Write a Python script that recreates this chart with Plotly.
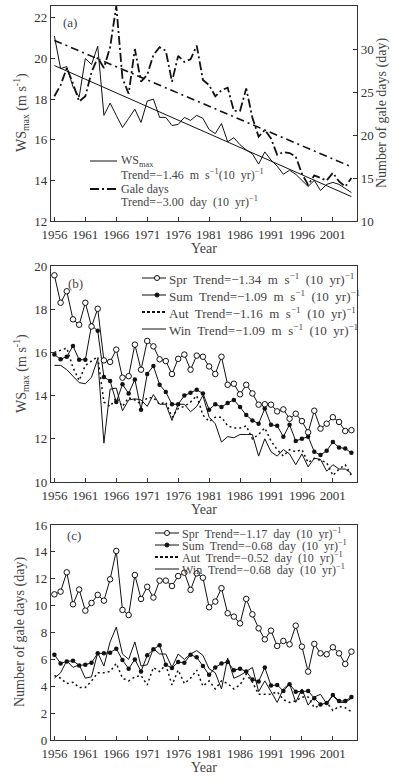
import plotly.graph_objects as go

# ---------------- data ----------------
years = list(range(1956, 2005))

ws_max = [21.1, 19.5, 19.6, 18.6, 18.1, 20.0, 19.7, 20.6, 17.2, 17.8,
          17.2, 16.6, 17.05, 17.5, 16.85, 17.9, 18.0, 17.1, 17.1, 16.7,
          16.75, 17.1, 16.95, 17.2, 17.05, 16.5, 16.3, 16.8, 15.9, 16.1,
          15.75, 15.5, 15.3, 14.8, 15.4, 15.0, 14.7, 14.3, 14.5, 14.3,
          14.0, 13.7, 14.0, 13.5, 13.8, 13.9, 13.8, 13.6, 13.4]

gale_days = [24.5, 25.8, 27.8, 26.0, 23.9, 24.5, 27.3, 29.0, 27.8, 30.2,
             35.0, 26.6, 24.8, 30.0, 26.2, 27.0, 29.3, 30.2, 29.8, 26.2,
             29.2, 28.5, 28.8, 30.4, 26.4, 25.8, 24.5, 25.2, 25.5, 22.8,
             22.8, 25.4, 22.0, 19.8, 20.6, 19.6, 17.7, 18.0, 17.9, 17.5,
             15.5, 14.2, 15.3, 15.0, 14.7, 15.6, 14.6, 14.0, 15.0]

trend_years = [1956, 2004]
ws_trend = [19.65, 13.2]
gale_trend = [31.0, 16.3]

spr_ws = [19.57, 18.3, 18.83, 17.53, 17.28, 18.3, 17.2, 18.02, 15.63, 15.56,
          16.13, 14.83, 14.9, 16.36, 15.2, 16.53, 16.28, 15.68, 15.6, 15.0,
          15.7, 15.9, 15.2, 15.85, 15.8, 15.35, 15.0, 15.8, 14.5, 14.55,
          14.06, 14.5, 14.1, 13.58, 13.6, 13.58, 13.27, 13.36, 12.93, 13.16,
          12.82, 12.3, 13.3, 12.47, 12.7, 13.0, 12.78, 12.36, 12.4]
sum_ws = [15.9, 15.68, 15.8, 16.3, 15.66, 15.66, 17.25, 17.0, 14.86, 14.68,
          13.7, 14.52, 14.1, 14.75, 13.35, 15.0, 15.37, 14.5, 14.17, 13.6,
          13.6, 14.0, 14.13, 14.27, 14.1, 13.35, 13.6, 13.47, 13.66, 13.8,
          13.47, 13.1, 12.85, 12.7, 13.4, 12.65, 12.6, 12.1, 12.65, 11.9,
          12.0, 12.1, 11.4, 11.25, 11.45, 11.85, 11.6, 11.55, 11.35]
aut_ws = [16.0, 16.1, 16.2, 15.3, 14.7, 15.4, 15.6, 15.8, 13.7, 13.5,
          13.9, 13.5, 13.9, 13.8, 13.6, 13.9, 13.9, 13.6, 13.7, 13.0,
          13.4, 13.5, 13.7, 14.0, 13.1, 12.8, 13.0, 13.0, 12.6, 12.5,
          12.5, 12.6, 12.0, 12.2, 12.5, 11.9, 11.5, 11.2, 11.5, 11.4,
          11.5, 10.9, 11.1, 11.0, 10.9, 10.3, 10.6, 10.8, 10.3]
win_ws = [15.4, 15.4, 15.2, 14.9, 14.6, 14.55, 14.85, 15.7, 11.8, 14.3,
          14.35, 13.3, 13.8, 13.85, 13.8, 13.5, 14.05, 13.6, 13.6, 12.85,
          13.6, 13.6, 13.25, 13.5, 14.0, 13.0, 12.7, 11.85, 12.1, 12.05,
          12.2, 12.2, 12.2, 11.2, 12.0, 11.4, 11.2, 11.5, 11.3, 10.8,
          11.3, 10.7, 11.1, 11.05, 10.5, 10.8, 10.6, 10.6, 10.4]

spr_gd = [10.84, 11.04, 12.48, 10.1, 11.2, 9.63, 10.2, 10.8, 10.37, 11.96,
          14.07, 9.68, 9.3, 12.28, 10.5, 11.4, 10.6, 11.86, 11.86, 11.46,
          12.2, 12.45, 11.17, 12.4, 12.08, 9.88, 10.3, 11.3, 9.43, 9.18,
          8.68, 10.5, 9.35, 8.31, 7.49, 8.14, 7.0, 7.37, 7.12, 8.51,
          6.95, 5.09, 7.15, 6.45, 6.38, 6.9, 6.45, 5.66, 6.58]
sum_gd = [6.35, 5.7, 5.85, 5.9, 5.55, 5.6, 5.75, 6.45, 6.45, 6.5,
          6.8, 5.95, 5.3, 6.0, 5.1, 6.3, 6.75, 7.05, 5.6, 5.35,
          5.8, 5.75, 6.35, 6.15, 5.5, 4.85, 5.4, 5.7, 5.8, 5.2,
          5.3, 5.1, 4.5, 4.35, 5.4, 4.05, 4.1, 3.65, 4.15, 3.6,
          3.6, 3.65, 3.1, 2.65, 2.75, 3.35, 2.9, 2.9, 3.2]
aut_gd = [4.8, 4.6, 4.2, 4.3, 3.9, 3.9, 4.4, 5.0, 5.0, 5.1,
          5.7, 4.6, 4.4, 4.7, 4.8, 4.1, 5.4, 5.1, 5.6, 4.1,
          5.2, 4.2, 4.6, 5.2, 4.0, 4.4, 3.8, 4.4, 4.2, 3.8,
          4.1, 4.9, 4.3, 3.4, 3.4, 3.4, 3.6, 3.0, 2.8, 2.9,
          3.2, 3.2, 2.4, 2.6, 2.8, 2.2, 2.5, 2.4, 2.1]
win_gd = [4.6, 5.0, 5.9, 5.4, 5.6, 4.6, 4.7, 6.5, 5.5, 7.3,
          8.4, 6.4, 6.0, 7.3, 5.5, 5.6, 6.8, 6.4, 6.4, 5.4,
          6.4, 6.0, 6.4, 6.65, 6.3, 5.3, 5.0, 3.8, 6.1, 4.6,
          4.8, 5.1, 5.4, 3.6, 4.4, 3.6, 2.8, 3.8, 4.2, 2.8,
          3.8, 2.6, 3.2, 3.4, 2.7, 3.3, 2.8, 2.8, 3.1]

year_ticks = [1956, 1961, 1966, 1971, 1976, 1981, 1986, 1991, 1996, 2001]

leg_a = [("WS<sub>max</sub>", "Trend=−1.46  m  s<sup>−1</sup>(10  yr)<sup>−1</sup>"),
         ("Gale days", "Trend=−3.00  day  (10  yr)<sup>−1</sup>")]
leg_b = ["Spr  Trend=−1.34  m  s<sup>−1</sup>  (10  yr)<sup>−1</sup>",
         "Sum  Trend=−1.09  m  s<sup>−1</sup>  (10  yr)<sup>−1</sup>",
         "Aut  Trend=−1.16  m  s<sup>−1</sup>  (10  yr)<sup>−1</sup>",
         "Win  Trend=−1.09  m  s<sup>−1</sup>  (10  yr)<sup>−1</sup>"]
leg_c = ["Spr  Trend=−1.17  day  (10  yr)<sup>−1</sup>",
         "Sum  Trend=−0.68  day  (10  yr)<sup>−1</sup>",
         "Aut  Trend=−0.52  day  (10  yr)<sup>−1</sup>",
         "Win  Trend=−0.68  day  (10  yr)<sup>−1</sup>"]

# ---------------- layout geometry ----------------
W, H = 394, 782
ML, MR, MT, MB = 51, 37, 6, 42
PW = W - ML - MR
PH = H - MT - MB


def fx(xp):
    return (xp - ML) / PW


def fy(yp):
    return (H - MB - yp) / PH


FONT = "Liberation Serif, Times New Roman, serif"
INK = "#111"
TXT = "#444"
AX = "#333"
XR = [1955.45, 2004.9]

fig = go.Figure()

# Panel (a)
fig.add_trace(go.Scatter(x=years, y=ws_max, mode="lines", xaxis="x", yaxis="y",
                         line=dict(color=INK, width=1)))
fig.add_trace(go.Scatter(x=trend_years, y=ws_trend, mode="lines", xaxis="x", yaxis="y",
                         line=dict(color=INK, width=1)))
fig.add_trace(go.Scatter(x=years, y=gale_days, mode="lines", xaxis="x", yaxis="y2",
                         line=dict(color=INK, width=1.8, dash="9px,3px,2px,3px")))
fig.add_trace(go.Scatter(x=trend_years, y=gale_trend, mode="lines", xaxis="x", yaxis="y2",
                         line=dict(color=INK, width=1.6, dash="8px,4px,2px,4px")))

# Panel (b)
fig.add_trace(go.Scatter(x=years, y=win_ws, mode="lines", xaxis="x2", yaxis="y3",
                         line=dict(color=INK, width=1)))
fig.add_trace(go.Scatter(x=years, y=aut_ws, mode="lines", xaxis="x2", yaxis="y3",
                         line=dict(color=INK, width=1.5, dash="2px,3px")))
fig.add_trace(go.Scatter(x=years, y=sum_ws, mode="lines+markers", xaxis="x2", yaxis="y3",
                         line=dict(color=INK, width=1),
                         marker=dict(symbol="circle", size=4.5, color=INK)))
fig.add_trace(go.Scatter(x=years, y=spr_ws, mode="lines+markers", xaxis="x2", yaxis="y3",
                         line=dict(color=INK, width=1),
                         marker=dict(symbol="circle", size=5.5, color="white",
                                     line=dict(color=INK, width=1))))

# Panel (c)
fig.add_trace(go.Scatter(x=years, y=win_gd, mode="lines", xaxis="x3", yaxis="y4",
                         line=dict(color=INK, width=1)))
fig.add_trace(go.Scatter(x=years, y=aut_gd, mode="lines", xaxis="x3", yaxis="y4",
                         line=dict(color=INK, width=1.5, dash="2px,3px")))
fig.add_trace(go.Scatter(x=years, y=sum_gd, mode="lines+markers", xaxis="x3", yaxis="y4",
                         line=dict(color=INK, width=1),
                         marker=dict(symbol="circle", size=4.5, color=INK)))
fig.add_trace(go.Scatter(x=years, y=spr_gd, mode="lines+markers", xaxis="x3", yaxis="y4",
                         line=dict(color=INK, width=1),
                         marker=dict(symbol="circle", size=5.5, color="white",
                                     line=dict(color=INK, width=1))))

tickfont = dict(family=FONT, size=13, color="#333")


def xax(anchor):
    return dict(range=XR, tickvals=year_ticks, ticks="inside", ticklen=4,
                tickcolor=AX, showline=True, linecolor=AX, linewidth=1.2,
                mirror=True, showgrid=False, zeroline=False, tickfont=tickfont,
                anchor=anchor, domain=[0, 1], automargin=False,
                ticklabelstandoff=1)


def yax(rng, dtick, dom, anchor, mirror=True):
    return dict(range=rng, dtick=dtick, ticks="inside", ticklen=4, tickcolor=AX,
                showline=True, linecolor=AX, linewidth=1.2, mirror=mirror,
                showgrid=False, zeroline=False, tickfont=tickfont, domain=dom,
                anchor=anchor, automargin=False)


dom_a = [fy(221), fy(6)]
dom_b = [fy(482), fy(266)]
dom_c = [fy(740), fy(525)]

layout = dict(
    width=W, height=H, margin=dict(l=ML, r=MR, t=MT, b=MB, autoexpand=False),
    paper_bgcolor="white", plot_bgcolor="white", showlegend=False,
    xaxis=xax("y"), xaxis2=xax("y3"), xaxis3=xax("y4"),
    yaxis=yax([12, 22.58], 2, dom_a, "x", mirror=False),
    yaxis2=dict(range=[10, 35], dtick=5, ticks="inside", ticklen=4, tickcolor=AX,
                showline=True, linecolor=AX, linewidth=1.2, overlaying="y",
                side="right", anchor="x", showgrid=False, zeroline=False,
                tickfont=tickfont, automargin=False),
    yaxis3=yax([10, 20], 2, dom_b, "x2"),
    yaxis4=yax([0, 16], 2, dom_c, "x3"),
)
fig.update_layout(**layout)

annotations = []
shapes = []


def text(xp, yp, s, size=13, anchor="left", angle=0):
    annotations.append(dict(x=fx(xp), y=fy(yp), xref="paper", yref="paper",
                            text=s, showarrow=False, xanchor=anchor,
                            yanchor="middle", textangle=angle,
                            font=dict(family=FONT, size=size, color=TXT)))


def key_line(x0, x1, yp, width=1, dash="solid"):
    shapes.append(dict(type="line", xref="paper", yref="paper",
                       x0=fx(x0), x1=fx(x1), y0=fy(yp), y1=fy(yp),
                       line=dict(color=INK, width=width, dash=dash)))


def key_dot(cx, cy, r, fill):
    shapes.append(dict(type="circle", xref="paper", yref="paper",
                       x0=fx(cx - r), x1=fx(cx + r), y0=fy(cy + r), y1=fy(cy - r),
                       fillcolor=fill, line=dict(color=INK, width=1)))


ws_title = "WS<sub>max</sub> (m s<sup>-1</sup>)"
gd_title = "Number of gale days (day)"

# axis titles
text(21, 113, ws_title, 14, "center", -90)
text(382, 113, gd_title, 14, "center", -90)
text(21, 374, ws_title, 14, "center", -90)
text(20, 632, gd_title, 14, "center", -90)
text(204, 249, "Year", 14, "center")
text(204, 510, "Year", 14, "center")
text(204, 768, "Year", 14, "center")

# panel labels
text(61, 23, "(a)")
text(66, 283, "(b)")
text(65, 535, "(c)")

# legend (a)
key_line(90, 117, 161, 1)
text(119, 161, leg_a[0][0], 12)
text(119, 174, leg_a[0][1], 12)
key_line(90, 117, 189, 1.8, "9px,3px,2px,3px")
text(119, 189, leg_a[1][0], 12)
text(119, 202, leg_a[1][1], 12)

# legend (b)
yb = [278, 295, 312, 329]
key_line(142, 166, yb[0]); key_dot(157, yb[0], 2.5, "white")
key_line(142, 166, yb[1]); key_dot(157, yb[1], 2, INK)
key_line(142, 166, yb[2], 1.8, "3px,2px")
key_line(142, 166, yb[3])
for yy, s in zip(yb, leg_b):
    text(167, yy + 1, s, 13)

# legend (c)
yc = [533, 545, 557, 569]
key_line(155, 179, yc[0]); key_dot(167, yc[0], 2.5, "white")
key_line(155, 179, yc[1]); key_dot(167, yc[1], 2, INK)
key_line(155, 179, yc[2], 1.8, "3px,2px")
key_line(155, 179, yc[3])
for yy, s in zip(yc, leg_c):
    text(180, yy + 0.5, s, 12)

fig.update_layout(annotations=annotations, shapes=shapes)
fig.write_html("out.html", config={"displayModeBar": False},
               post_script="document.body.style.margin='0px';"
                           "document.body.style.padding='0px';")
